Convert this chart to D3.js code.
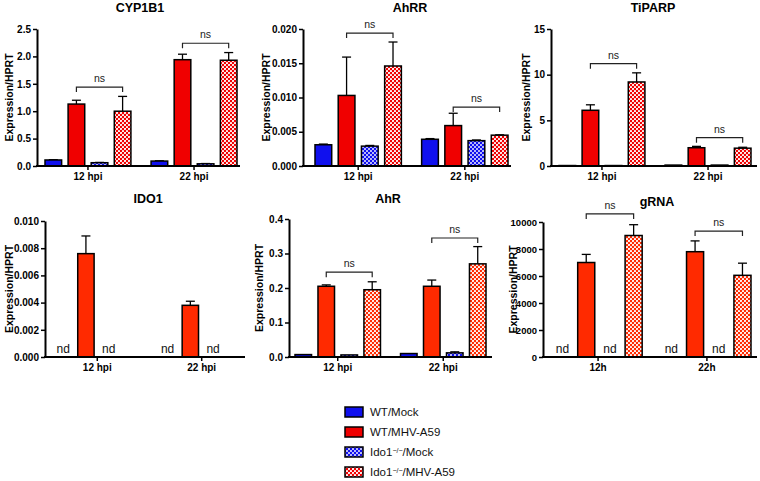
<!DOCTYPE html>
<html><head><meta charset="utf-8">
<script src="https://cdn.jsdelivr.net/npm/d3@7"></script>
<style>body{margin:0;background:#fff} text{font-family:"Liberation Sans",Arial,Helvetica,sans-serif}</style>
</head><body><svg id="c" width="760" height="481"></svg>
<script>
// ---------- DATA ----------
const groupsHpi = ["12 hpi", "22 hpi"];
const groupsH = ["12h", "22h"];
const series = ["WT/Mock", "WT/MHV-A59", "Ido1/Mock", "Ido1/MHV-A59"];

const cyp1b1Mean = [[0.11, 1.13, 0.06, 1.00], [0.09, 1.94, 0.04, 1.93]];
const cyp1b1Err  = [[0.005, 0.07, 0.005, 0.27], [0.005, 0.10, 0.005, 0.14]];
const cyp1b1Ns   = [1.44, 2.24];
const cyp1b1Ticks = [0, 0.5, 1.0, 1.5, 2.0, 2.5];

const ahrrMean = [[0.0031, 0.0103, 0.0029, 0.0146], [0.0039, 0.0059, 0.0037, 0.0045]];
const ahrrErr  = [[0.0001, 0.0056, 0.0001, 0.0035], [0.0001, 0.0018, 0.0001, 0.00005]];
const ahrrNs   = [0.0194, 0.0086];
const ahrrTicks = [0, 0.005, 0.010, 0.015, 0.020];

const tiparpMean = [[0.05, 6.1, 0.05, 9.2], [0.1, 2.0, 0.1, 1.95]];
const tiparpErr  = [[0.0, 0.6, 0.0, 1.0], [0.0, 0.15, 0.0, 0.1]];
const tiparpNs   = [11.2, 3.1];
const tiparpTicks = [0, 5, 10, 15];

const ido1Mean = [["nd", 0.0076, "nd", null], ["nd", 0.0038, "nd", null]];
const ido1Err  = [[0, 0.0013, 0, 0], [0, 0.0003, 0, 0]];
const ido1Ns   = [null, null];
const ido1Ticks = [0, 0.002, 0.004, 0.006, 0.008, 0.010];

const ahrMean = [[0.007, 0.205, 0.006, 0.195], [0.010, 0.205, 0.012, 0.270]];
const ahrErr  = [[0.0, 0.004, 0.0, 0.023], [0.0, 0.018, 0.003, 0.050]];
const ahrNs   = [0.246, 0.345];
const ahrTicks = [0, 0.1, 0.2, 0.3, 0.4];

const grnaMean = [["nd", 7000, "nd", 9000], ["nd", 7800, "nd", 6050]];
const grnaErr  = [[0, 600, 0, 800], [0, 800, 0, 900]];
const grnaNs   = [10600, 9330];
const grnaTicks = [0, 2000, 4000, 6000, 8000, 10000];

// ---------- LAYOUT ----------
const panels = [
  {title:"CYP1B1", groups:groupsHpi, mean:cyp1b1Mean, err:cyp1b1Err, ns:cyp1b1Ns, ticks:cyp1b1Ticks, fmt:d3.format(".1f"),
   ax0:37, ax1:240, b0:45, b1:237, top:29, bottom:166, yt:9, tx:140, ty:12, red:"#f00000"},
  {title:"AhRR", groups:groupsHpi, mean:ahrrMean, err:ahrrErr, ns:ahrrNs, ticks:ahrrTicks, fmt:d3.format(".3f"),
   ax0:303, ax1:511, b0:315, b1:508, top:29, bottom:166, yt:266, tx:410, ty:12, red:"#f00000"},
  {title:"TiPARP", groups:groupsHpi, mean:tiparpMean, err:tiparpErr, ns:tiparpNs, ticks:tiparpTicks, fmt:d3.format("d"),
   ax0:551, ax1:757, b0:559, b1:751, top:29, bottom:166, yt:526, tx:653, ty:12, red:"#f00000"},
  {title:"IDO1", groups:groupsHpi, mean:ido1Mean, err:ido1Err, ns:ido1Ns, ticks:ido1Ticks, fmt:d3.format(".3f"),
   ax0:45, ax1:245, b0:55, b1:244, top:221, bottom:357, yt:9, tx:148, ty:203, red:"#ff2a00"},
  {title:"AhR", groups:groupsHpi, mean:ahrMean, err:ahrErr, ns:ahrNs, ticks:ahrTicks, fmt:d3.format(".1f"),
   ax0:289, ax1:492, b0:295, b1:486, top:219, bottom:357, yt:259, tx:388, ty:203, red:"#ff2a00"},
  {title:"gRNA", groups:groupsH, mean:grnaMean, err:grnaErr, ns:grnaNs, ticks:grnaTicks, fmt:d3.format("d"),
   ax0:543, ax1:757, b0:554, b1:751, top:222, bottom:357, yt:513, tx:657, ty:206, red:"#ff2a00"}
];

const svg = d3.select("#c");
const defs = svg.append("defs");
function pat(id, color, r) {
  const p = defs.append("pattern").attr("id", id).attr("width", 4).attr("height", 4).attr("patternUnits", "userSpaceOnUse");
  p.append("rect").attr("width", 4).attr("height", 4).attr("fill", color);
  p.append("circle").attr("cx", 1).attr("cy", 1).attr("r", r).attr("fill", "#fff");
  p.append("circle").attr("cx", 3).attr("cy", 3).attr("r", r).attr("fill", "#fff");
}
pat("pBlue", "#1010ee", 0.95);
pat("pRed", "#f00000", 1.1);
pat("pRed2", "#ff2a00", 1.1);

const blue = "#1010ee";

panels.forEach(P => {
  const g = svg.append("g");
  const y = d3.scaleLinear().domain([0, P.ticks[P.ticks.length - 1]]).range([P.bottom, P.top]);
  const xg = d3.scaleBand().domain(P.groups).range([P.b0, P.b1]).paddingInner(0.19).paddingOuter(0);
  const xs = d3.scaleBand().domain(series).range([0, xg.bandwidth()]).paddingInner(0.28).paddingOuter(0);
  const fills = [blue, P.red, "url(#pBlue)", P.red === "#f00000" ? "url(#pRed)" : "url(#pRed2)"];

  // bars
  P.groups.forEach((grp, gi) => {
    series.forEach((s, si) => {
      const v = P.mean[gi][si];
      const x = xg(grp) + xs(s);
      const w = xs.bandwidth();
      if (v === "nd") {
        g.append("text").attr("x", x + w / 2).attr("y", P.bottom - 4).attr("text-anchor", "middle")
          .attr("font-size", 12).attr("fill", "#111").text("nd");
        return;
      }
      if (v === null) return;
      const e = P.err[gi][si];
      if (e > 0) {
        const cx = x + w / 2;
        g.append("line").attr("x1", cx).attr("x2", cx).attr("y1", y(v)).attr("y2", y(v + e))
          .attr("stroke", "#000").attr("stroke-width", 1.3);
        g.append("line").attr("x1", cx - 4.5).attr("x2", cx + 4.5).attr("y1", y(v + e)).attr("y2", y(v + e))
          .attr("stroke", "#000").attr("stroke-width", 1.3);
      }
      g.append("rect").attr("x", x).attr("y", y(v)).attr("width", w).attr("height", Math.max(0, y(0) - y(v)))
        .attr("fill", fills[si]).attr("stroke", "#000").attr("stroke-width", 1.5);
    });
    // ns bracket
    const lvl = P.ns[gi];
    if (lvl !== null && lvl !== undefined) {
      const xa = xg(grp) + xs(series[1]) + xs.bandwidth() / 2;
      const xb = xg(grp) + xs(series[3]) + xs.bandwidth() / 2;
      const yy = y(lvl);
      g.append("path").attr("d", `M${xa},${yy + 5}V${yy}H${xb}V${yy + 5}`)
        .attr("fill", "none").attr("stroke", "#222").attr("stroke-width", 1.2);
      g.append("text").attr("x", (xa + xb) / 2).attr("y", yy - 5).attr("text-anchor", "middle")
        .attr("font-size", 10.5).attr("fill", "#222").text("ns");
    }
  });

  // y axis
  const ya = g.append("g").attr("transform", `translate(${P.ax0},0)`)
    .call(d3.axisLeft(y).tickValues(P.ticks).tickFormat(P.fmt).tickSize(4).tickSizeOuter(0).tickPadding(2));
  ya.select(".domain").attr("stroke-width", 2);
  ya.selectAll(".tick line").attr("stroke-width", 1.5);
  ya.selectAll(".tick text").attr("font-size", P.title === "gRNA" ? 9.5 : 10).attr("font-weight", "bold")
    .attr("font-family", '"Liberation Sans",Arial,sans-serif').attr("fill", "#000");

  // x axis
  const xa = g.append("g").attr("transform", `translate(0,${P.bottom})`)
    .call(d3.axisBottom(xg).tickSize(4).tickSizeOuter(0).tickPadding(3));
  xa.select(".domain").remove();
  xa.selectAll(".tick line").attr("stroke-width", 1.5);
  xa.selectAll(".tick text").attr("font-size", 10).attr("font-weight", "bold")
    .attr("font-family", '"Liberation Sans",Arial,sans-serif').attr("fill", "#000");
  g.append("line").attr("x1", P.ax0 - 1).attr("x2", P.ax1).attr("y1", P.bottom).attr("y2", P.bottom)
    .attr("stroke", "#000").attr("stroke-width", 2);

  // titles
  g.append("text").attr("x", P.tx).attr("y", P.ty).attr("text-anchor", "middle").attr("font-size", 12.5)
    .attr("font-weight", "bold").text(P.title);
  g.append("text").attr("transform", `translate(${P.yt},${(P.top + P.bottom) / 2}) rotate(-90)`)
    .attr("text-anchor", "middle").attr("dy", "0.35em").attr("font-size", 10.5).attr("font-weight", "bold")
    .text("Expression/HPRT");
});

// ---------- LEGEND ----------
const legendFills = [blue, "#f00000", "url(#pBlue)", "url(#pRed)"];
const legendLabels = [
  [["WT/Mock", false]],
  [["WT/MHV-A59", false]],
  [["Ido1", false], ["\u2212/\u2212", true], ["/Mock", false]],
  [["Ido1", false], ["\u2212/\u2212", true], ["/MHV-A59", false]]
];
const ly = d3.scaleBand().domain(d3.range(4)).range([402, 482]);
const lg = svg.append("g");
legendLabels.forEach((parts, i) => {
  const cy = ly(i) + ly.bandwidth() / 2;
  lg.append("rect").attr("x", 345).attr("y", cy - 5).attr("width", 18).attr("height", 10)
    .attr("fill", legendFills[i]).attr("stroke", "#000").attr("stroke-width", 1.5);
  const t = lg.append("text").attr("x", 370).attr("y", cy).attr("dy", "0.35em").attr("font-size", 11.5).attr("fill", "#111");
  parts.forEach(([s, sup]) => {
    const ts = t.append("tspan").text(s);
    if (sup) ts.attr("font-size", 7).attr("baseline-shift", "super");
  });
});
</script></body></html>
